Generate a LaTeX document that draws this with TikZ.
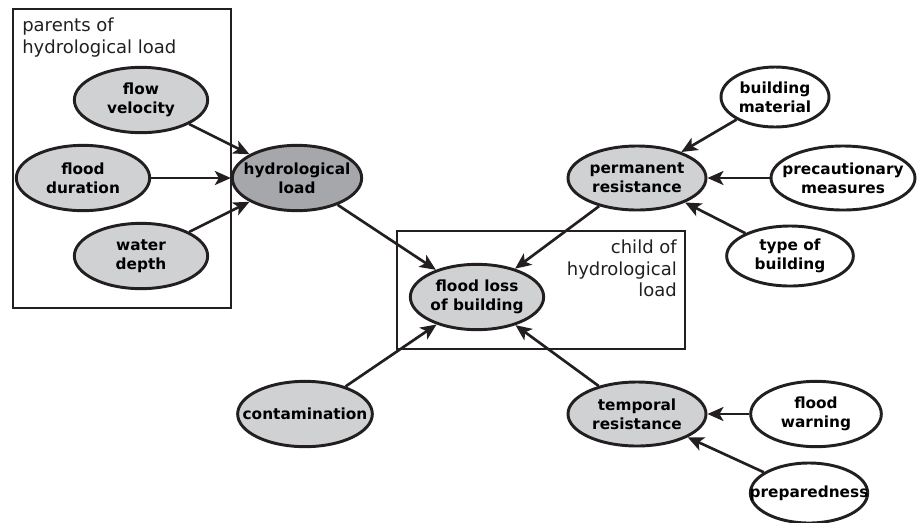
\documentclass[tikz,border=0pt]{standalone}
\usepackage{fontspec}
\setmainfont{DejaVu Sans}
\usepackage{tikz}
\usetikzlibrary{shapes.geometric,arrows.meta,positioning}
\usepackage{xcolor}
\definecolor{varfill}{RGB}{208,209,211}
\definecolor{loadfill}{RGB}{166,167,170}
\definecolor{inkdark}{RGB}{35,31,32}

\begin{document}
\begin{tikzpicture}[
    x=0.75pt, y=-0.75pt,
    var/.style={ellipse, draw=inkdark, line width=2.2pt, fill=varfill, inner xsep=-40pt, inner ysep=0pt, align=center,
                font=\fontsize{11.5}{14}\selectfont\bfseries, minimum width=100pt, minimum height=49pt},
    obs/.style={var, fill=white},
    arrow/.style={-{Stealth[length=12pt,width=10.5pt,inset=3pt]}, line width=2pt, draw=inkdark},
    group/.style={draw=inkdark, line width=0.8pt},
    grouplabel/.style={font=\fontsize{13.5}{16}\selectfont, text=inkdark, inner sep=0pt}
]
    \useasboundingbox (0,0) rectangle (917,522);

    % Group boxes
    \draw[group] (13,9) rectangle (231,308);
    \draw[group] (397,231) rectangle (685,349);
    \node[grouplabel, anchor=north west, align=left] (parentslabel) at (22,18) {parents of\\hydrological load};
    \node[grouplabel, anchor=north east, align=right] (childlabel) at (677,240) {child of\\hydrological\\load};

    % Parents of hydrological load
    \node[var] (velocity) at (141,100) {flow\\velocity};
    \node[var] (duration) at (83,178) {flood\\duration};
    \node[var] (depth) at (141,256) {water\\depth};
    \node[var, fill=loadfill, minimum width=97pt] (load) at (297,178) {hydrological\\load};

    % Flood loss
    \node[var] (loss) at (477,297) {flood loss\\of building};

    % Permanent resistance
    \node[var, minimum width=103.5pt, minimum height=48pt] (permanent) at (637,178) {permanent\\resistance};
    \node[obs, minimum width=81pt, minimum height=45pt] (material) at (775,97) {building\\material};
    \node[obs, minimum width=108pt, minimum height=48pt] (precaution) at (843,178) {precautionary\\measures};
    \node[obs, minimum width=95pt, minimum height=45pt] (type) at (790,256) {type of\\building};

    % Temporal resistance and contamination
    \node[var, minimum width=101pt] (contamination) at (305,414) {contamination};
    \node[var, minimum width=103.5pt, minimum height=48pt] (temporal) at (637,414) {temporal\\resistance};
    \node[obs, minimum width=98pt] (warning) at (816,414) {flood\\warning};
    \node[obs, minimum width=88pt, minimum height=45pt] (preparedness) at (809,493) {preparedness};

    % Arrows
    \draw[arrow] (velocity) -- (load);
    \draw[arrow] (duration) -- (load);
    \draw[arrow] (depth) -- (load);
    \draw[arrow] (load) -- (loss);
    \draw[arrow] (permanent) -- (loss);
    \draw[arrow] (contamination) -- (loss);
    \draw[arrow] (temporal) -- (loss);
    \draw[arrow] (material) -- (permanent);
    \draw[arrow] (precaution) -- (permanent);
    \draw[arrow] (type) -- (permanent);
    \draw[arrow] (warning) -- (temporal);
    \draw[arrow] (preparedness) -- (temporal);

\end{tikzpicture}
\end{document}
